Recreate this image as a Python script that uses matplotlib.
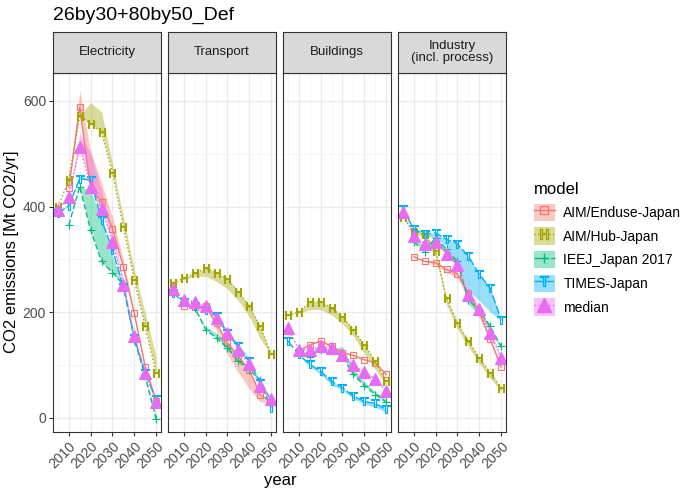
import numpy as np
import matplotlib.pyplot as plt
from matplotlib.patches import Patch
from matplotlib.lines import Line2D

plt.rcParams['font.family'] = ['Liberation Sans', 'DejaVu Sans']

years = [2005, 2010, 2015, 2020, 2025, 2030, 2035, 2040, 2045, 2050]
sectors = ["Electricity", "Transport", "Buildings", "Industry\n(incl. process)"]
models = ["AIM/Enduse-Japan", "AIM/Hub-Japan", "IEEJ_Japan 2017", "TIMES-Japan", "median"]
colors = ["#F8766D", "#A3A500", "#00BF7D", "#00B0F6", "#E76BF3"]
nan = np.nan

# line values per sector (order as in models)
elec = [
    [nan, 436, 588, 434, 409, 358, 286, 198, 97, 31],
    [400, 450, 572, 557, 541, 464, 362, 261, 173, 84],
    [nan, 365, 438, 355, 296, 275, 252, 148, 79, -3],
    [387, 402, 453, 450, 374, 318, 248, 151, 85, 35],
    [393, 418, 513, 438, 396, 333, 252, 154, 85, 30],
]
transport = [
    [nan, 212, 209, 211, 179, 142, 116, 91, 44, 30],
    [255, 264, 274, 283, 275, 262, 239, 211, 173, 121],
    [nan, 220, 208, 167, 151, 132, 107, 91, 72, 31],
    [236, 220, 212, 204, 192, 160, 135, 107, 66, 19],
    [243, 223, 220, 211, 189, 160, 129, 101, 60, 35],
]
buildings = [
    [nan, 126, 138, 145, 135, 123, 118, 110, 104, 82],
    [195, 200, 219, 220, 208, 191, 167, 138, 107, 69],
    [nan, 126, 116, 129, 129, 116, 82, 61, 44, 30],
    [145, 120, 101, 88, 69, 57, 41, 31, 27, 16],
    [170, 129, 128, 135, 132, 119, 99, 86, 74, 50],
]
industry = [
    [nan, 305, 296, 294, 281, 273, 236, 201, 149, 96],
    [380, 352, 348, 316, 226, 179, 145, 113, 85, 57],
    [nan, 333, 314, 341, 319, 296, 223, 205, 173, 135],
    [396, 357, 348, 350, 338, 329, 306, 272, 245, 186],
    [390, 344, 330, 333, 310, 289, 233, 206, 160, 113],
]

# other edge of each shaded band
elec_band = [
    [nan, 436, 619, 505, 445, 380, 300, 200, 100, 35],
    [400, 450, 572, 597, 579, 481, 380, 280, 198, 116],
    [nan, 365, 438, 431, 374, 305, 252, 150, 82, 5],
    [387, 405, 458, 452, 380, 322, 250, 153, 87, 37],
    [393, 418, 540, 500, 430, 355, 262, 158, 88, 30],
]
transport_band = [
    [nan, 212, 209, 211, 165, 120, 85, 55, 30, 28],
    [255, 262, 268, 268, 258, 244, 222, 192, 150, 118],
    [nan, 220, 210, 172, 160, 140, 110, 92, 72, 31],
    [236, 220, 212, 204, 195, 165, 140, 112, 70, 25],
    [243, 223, 220, 213, 193, 165, 132, 103, 62, 36],
]
buildings_band = [
    [nan, 126, 140, 148, 137, 125, 119, 111, 104, 82],
    [195, 198, 205, 205, 195, 178, 155, 122, 92, 62],
    [nan, 126, 125, 135, 130, 135, 92, 68, 50, 35],
    [145, 118, 98, 82, 62, 52, 36, 26, 20, 10],
    [170, 129, 129, 137, 134, 121, 101, 88, 76, 52],
]
industry_band = [
    [nan, 305, 296, 290, 275, 265, 225, 190, 145, 100],
    [380, 350, 340, 305, 215, 168, 135, 103, 75, 50],
    [nan, 340, 325, 330, 310, 285, 215, 195, 165, 130],
    [396, 357, 345, 340, 325, 290, 240, 222, 200, 185],
    [390, 344, 332, 338, 316, 295, 240, 212, 166, 118],
]

lines = [elec, transport, buildings, industry]
bands = [elec_band, transport_band, buildings_band, industry_band]

styles = ["-", ":", (0, (4, 2)), (0, (6, 2)), ":"]
markers = ["s", r"$\mathsf{H}$", "+", r"$\mathsf{T}$", "^"]
msizes = [5, 6, 6, 6, 8.5]

fig = plt.figure(figsize=(6.85, 4.93), dpi=100)
W, H = 685, 493
lefts = [53, 168, 283, 398]
pw = 108
ptop, pbot, stop = 73, 432, 32

for i, sec in enumerate(sectors):
    ax = fig.add_axes([lefts[i] / W, 1 - pbot / H, pw / W, (pbot - ptop) / H])
    ax.set_facecolor("white")
    for j, m in enumerate(models):
        y = np.array(lines[i][j], dtype=float)
        b = np.array(bands[i][j], dtype=float)
        ax.fill_between(years, np.minimum(y, b), np.maximum(y, b),
                        color=colors[j], alpha=0.4, lw=0)
    for j, m in enumerate(models):
        y = np.array(lines[i][j], dtype=float)
        filled = m == "median"
        ax.plot(years, y, color=colors[j], ls=styles[j], lw=1.0,
                marker=markers[j], ms=msizes[j],
                mfc=colors[j] if filled else "none", mec=colors[j], mew=0.8)
    ax.set_xlim(2002.75, 2052.25)
    ax.set_ylim(-27, 653)
    ax.set_xticks([2010, 2020, 2030, 2040, 2050])
    ax.set_xticks([2005, 2015, 2025, 2035, 2045], minor=True)
    ax.set_yticks([0, 200, 400, 600])
    ax.set_yticks([100, 300, 500], minor=True)
    ax.grid(True, which="major", color="#EBEBEB", lw=1.0)
    ax.grid(True, which="minor", color="#F4F4F4", lw=0.6)
    ax.set_axisbelow(True)
    for s in ax.spines.values():
        s.set_color("#333333")
        s.set_linewidth(0.8)
    ax.tick_params(which="minor", length=0)
    ax.tick_params(which="major", length=3, color="#333333", labelsize=10,
                   labelcolor="#4D4D4D", pad=2)
    plt.setp(ax.get_xticklabels(), rotation=45, ha="right", rotation_mode="anchor")
    if i > 0:
        ax.set_yticklabels([])
        ax.tick_params(axis="y", length=0)

    sax = fig.add_axes([lefts[i] / W, 1 - ptop / H, pw / W, (ptop - stop) / H])
    sax.set_facecolor("#D9D9D9")
    sax.set_xticks([])
    sax.set_yticks([])
    for s in sax.spines.values():
        s.set_color("#333333")
        s.set_linewidth(0.8)
    sax.text(0.5, 0.5, sec, ha="center", va="center", fontsize=9.5,
             color="#1A1A1A", transform=sax.transAxes, linespacing=1.0)

fig.text(53 / W, 1 - 15 / H, "26by30+80by50_Def", fontsize=14, va="center", ha="left")
fig.text(280 / W, 1 - 481 / H, "year", fontsize=12, ha="center", va="center")
fig.text(12 / W, 1 - 252 / H, "CO2 emissions [Mt CO2/yr]", fontsize=12,
         rotation=90, ha="center", va="center")

handles = []
for j, m in enumerate(models):
    filled = m == "median"
    p = Patch(facecolor=colors[j], alpha=0.4, lw=0)
    l = Line2D([], [], color=colors[j], ls=styles[j], lw=1.0, marker=markers[j],
               ms=msizes[j] + (2 if filled else 1), mfc=colors[j] if filled else "none",
               mec=colors[j])
    handles.append((p, l))
leg = fig.legend(handles, models, loc="upper left", bbox_to_anchor=(521 / W, 1 - 170 / H),
                 frameon=False, title="model", title_fontsize=12, fontsize=10,
                 handlelength=1.55, handleheight=1.55, labelspacing=0.45, handletextpad=0.6)
leg._legend_box.align = "left"

fig.savefig("out.png", dpi=100)
